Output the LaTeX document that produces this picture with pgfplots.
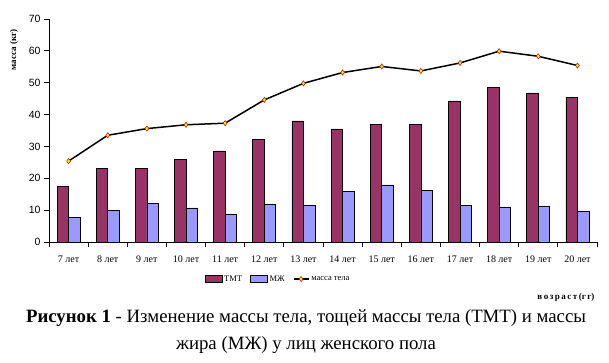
\documentclass[border=0pt]{standalone}
\usepackage{pgfplots}
\pgfplotsset{compat=1.18}
\usepackage{fontspec}
\setmainfont{Liberation Serif}
\newfontfamily\arialf{Liberation Sans}
\definecolor{tmt}{HTML}{993366}
\definecolor{mzh}{HTML}{9999FF}
\pgfplotsset{
  barlegend/.style={legend image code/.code={\draw[##1] (0pt,-3.5pt) rectangle (17pt,3.5pt);}},
  linelegend/.style={legend image code/.code={\draw[mark repeat=2,mark phase=2,##1] plot coordinates {(0pt,0pt) (7.5pt,0pt) (15pt,0pt)};}},
}
\begin{document}
\begin{tikzpicture}
\useasboundingbox (0,0) rectangle (609pt,362pt);
\begin{axis}[
  at={(49pt,120pt)}, anchor=south west,
  scale only axis, width=548pt, height=223pt,
  xmin=-0.5, xmax=13.5, ymin=0, ymax=70,
  axis x line*=bottom, axis y line*=left,
  axis line style={black, line width=0.8pt, -},
  tick align=outside,
  major tick length=5pt, minor tick length=5pt,
  xtick={0,...,13},
  xticklabels={7 лет,8 лет,9 лет,10 лет,11 лет,12 лет,13 лет,14 лет,15 лет,16 лет,17 лет,18 лет,19 лет,20 лет},
  minor xtick={-0.5,0.5,...,13.5},
  major x tick style={draw=none},
  minor x tick style={draw=black, line width=0.8pt},
  ytick={0,10,...,70},
  y tick style={draw=black, line width=0.8pt},
  xticklabel style={font=\fontsize{10}{12}\selectfont, yshift=-5pt},
  yticklabel style={font=\arialf\fontsize{10.5}{12}\selectfont},
  /pgf/number format/assume math mode=true,
  legend style={at={(0.418,-0.166)}, anchor=center, draw=none, fill=none,
    legend columns=3, font=\fontsize{8.5}{9}\selectfont,
    /tikz/every even column/.append style={column sep=6pt},
    inner sep=0pt},
]
\addplot[ybar, bar width=11.5pt, bar shift=-5.75pt, fill=tmt, draw=black, line width=0.6pt, barlegend]
  coordinates {(0,17.5) (1,23.2) (2,23.2) (3,26.0) (4,28.6) (5,32.3) (6,38.0) (7,35.5) (8,37.0) (9,37.0) (10,44.3) (11,48.6) (12,46.8) (13,45.5)};
\addlegendentry{ТМТ}
\addplot[ybar, bar width=11.5pt, bar shift=5.75pt, fill=mzh, draw=black, line width=0.6pt, barlegend]
  coordinates {(0,7.8) (1,10.0) (2,12.2) (3,10.7) (4,8.7) (5,11.9) (6,11.6) (7,16.0) (8,17.9) (9,16.3) (10,11.6) (11,11.0) (12,11.3) (13,9.7)};
\addlegendentry{МЖ}
\addplot[sharp plot, black, line width=1.5pt, mark=diamond*, mark size=2.6pt,
  mark options={fill=yellow, draw=red!80!black, line width=0.5pt}, linelegend]
  coordinates {(0,25.4) (1,33.5) (2,35.6) (3,36.8) (4,37.3) (5,44.6) (6,49.8) (7,53.2) (8,55.1) (9,53.7) (10,56.2) (11,59.9) (12,58.3) (13,55.4)};
\addlegendentry{масса тела}
\end{axis}
\node[rotate=90, font=\bfseries\fontsize{9}{10}\selectfont] at (14pt,312pt) {масса (кг)};
\node[anchor=east, font=\bfseries\fontsize{9}{10}\selectfont] at (598pt,65pt) {в\,о\,з\,р\,а\,с\,т\,(г\,г)};
\node[font=\fontsize{18.8}{20}\selectfont] at (306pt,44pt) {\textbf{Рисунок 1} - Изменение массы тела, тощей массы тела (ТМТ) и массы};
\node[font=\fontsize{18.8}{20}\selectfont] at (306pt,17pt) {жира (МЖ) у лиц женского пола};
\end{tikzpicture}
\end{document}
